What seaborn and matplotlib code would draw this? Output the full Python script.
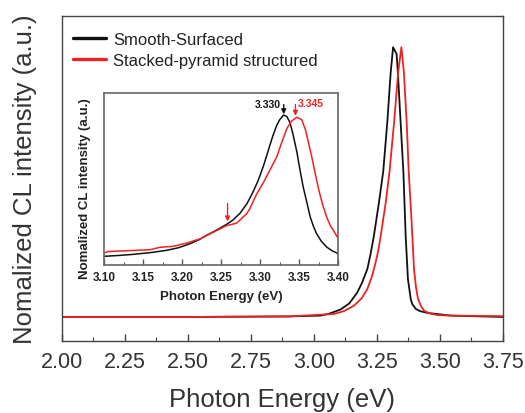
import numpy as np
import pandas as pd
import matplotlib
matplotlib.use("Agg")
import matplotlib.pyplot as plt
from matplotlib.lines import Line2D
from matplotlib.ticker import MultipleLocator
import seaborn as sns

# ---------------- data ----------------
series_names = ["Smooth-Surfaced", "Stacked-pyramid structured"]
series_colors = ["#111111", "#ee2222"]

main_smooth_E = [2.00, 2.50, 2.90, 3.026, 3.06, 3.106, 3.14, 3.172, 3.19, 3.212,
                 3.225, 3.238, 3.258, 3.275, 3.291, 3.3045, 3.314, 3.328, 3.333,
                 3.344, 3.355, 3.364, 3.373, 3.384, 3.39, 3.404, 3.42, 3.45,
                 3.543, 3.75]
main_smooth_I = [0.0, 0.0, 0.002, 0.005, 0.012, 0.028, 0.05, 0.091, 0.125, 0.178,
                 0.235, 0.301, 0.425, 0.54, 0.721, 0.906, 1.0, 0.975, 0.906,
                 0.721, 0.536, 0.30, 0.14, 0.067, 0.048, 0.03, 0.022, 0.015,
                 0.005, 0.0]

main_pyr_E = [2.00, 2.50, 2.90, 3.079, 3.12, 3.159, 3.19, 3.212, 3.23, 3.245,
              3.256, 3.265, 3.285, 3.300, 3.318, 3.334, 3.347, 3.357, 3.368,
              3.376, 3.387, 3.397, 3.405, 3.413, 3.425, 3.437, 3.46, 3.49,
              3.543, 3.75]
main_pyr_I = [0.0, 0.0, 0.002, 0.011, 0.022, 0.042, 0.07, 0.104, 0.15, 0.203,
              0.25, 0.301, 0.425, 0.54, 0.721, 0.906, 1.0, 0.906, 0.721,
              0.54, 0.363, 0.178, 0.11, 0.067, 0.04, 0.023, 0.013, 0.007,
              0.005, 0.003]

inset_smooth_E = [3.100, 3.120, 3.137, 3.160, 3.180, 3.195, 3.210, 3.222, 3.231,
                  3.240, 3.248, 3.257, 3.265, 3.274, 3.283, 3.290, 3.297, 3.304,
                  3.310, 3.316, 3.321, 3.325, 3.330, 3.334, 3.338, 3.342, 3.347,
                  3.351, 3.355, 3.360, 3.364, 3.368, 3.372, 3.378, 3.385, 3.392,
                  3.400]
inset_smooth_I = [0.058, 0.064, 0.071, 0.083, 0.098, 0.115, 0.142, 0.170, 0.198,
                  0.222, 0.245, 0.272, 0.30, 0.345, 0.41, 0.48, 0.56, 0.66,
                  0.76, 0.86, 0.93, 0.97, 1.0, 0.99, 0.95, 0.87, 0.75,
                  0.63, 0.52, 0.41, 0.32, 0.26, 0.21, 0.16, 0.12, 0.095,
                  0.075]

inset_pyr_E = [3.100, 3.105, 3.120, 3.137, 3.150, 3.159, 3.171, 3.188, 3.206,
               3.223, 3.240, 3.253, 3.258, 3.263, 3.270, 3.278, 3.283, 3.287,
               3.295, 3.304, 3.312, 3.321, 3.327, 3.334, 3.340, 3.347, 3.353,
               3.358, 3.362, 3.366, 3.370, 3.375, 3.380, 3.385, 3.390, 3.395,
               3.400]
inset_pyr_I = [0.08, 0.09, 0.093, 0.097, 0.10, 0.102, 0.118, 0.124, 0.147,
               0.175, 0.22, 0.253, 0.265, 0.27, 0.28, 0.32, 0.345, 0.38,
               0.47, 0.55, 0.63, 0.72, 0.81, 0.91, 0.96, 0.985, 0.97,
               0.90, 0.81, 0.72, 0.62, 0.50, 0.40, 0.32, 0.26, 0.22,
               0.175]

peak_labels = ["3.330", "3.345"]
peak_positions = [3.330, 3.345]
dip_position = 3.258

main_ticks = [2.00, 2.25, 2.50, 2.75, 3.00, 3.25, 3.50, 3.75]
inset_ticks = [3.10, 3.15, 3.20, 3.25, 3.30, 3.35, 3.40]

# ---------------- tables ----------------
df_main = pd.concat([
    pd.DataFrame({"E": main_smooth_E, "I": main_smooth_I, "sample": series_names[0]}),
    pd.DataFrame({"E": main_pyr_E, "I": main_pyr_I, "sample": series_names[1]}),
], ignore_index=True)
df_inset = pd.concat([
    pd.DataFrame({"E": inset_smooth_E, "I": inset_smooth_I, "sample": series_names[0]}),
    pd.DataFrame({"E": inset_pyr_E, "I": inset_pyr_I, "sample": series_names[1]}),
], ignore_index=True)
palette = dict(zip(series_names, series_colors))

# ---------------- style ----------------
sns.set_style("white")
plt.rcParams["font.family"] = ["Liberation Sans", "DejaVu Sans"]
plt.rcParams["axes.edgecolor"] = "#444444"
plt.rcParams["lines.solid_joinstyle"] = "round"

fig = plt.figure(figsize=(5.25, 4.14), dpi=100)
ax = fig.add_axes([0.118, 0.174, 0.840, 0.785])
ins = fig.add_axes([0.1987, 0.3575, 0.4457, 0.4155])

# ---------------- main plot ----------------
sns.lineplot(data=df_main, x="E", y="I", hue="sample", palette=palette,
             hue_order=series_names, estimator=None, sort=False,
             linewidth=1.3, legend=False, ax=ax)
ax.set_xlim(2.0, 3.75)
ax.set_ylim(-0.089, 1.116)
ax.set_xticks(main_ticks)
ax.set_xticklabels([f"{t:.2f}" for t in main_ticks])
ax.xaxis.set_minor_locator(MultipleLocator(0.125))
ax.set_yticks([])
ax.tick_params(axis="x", which="major", direction="in", length=5, width=1,
               color="#444444", labelsize=15.5, labelcolor="#333333", pad=7,
               bottom=True)
ax.tick_params(axis="x", which="minor", direction="in", length=3, width=0.8,
               color="#444444", bottom=True)
for s in ax.spines.values():
    s.set_linewidth(1.0)
    s.set_color("#444444")
ax.set_xlabel("Photon Energy (eV)", fontsize=18.5, color="#333333")
ax.set_ylabel("Nomalized CL intensity (a.u.)", fontsize=18.5, color="#333333")
ax.xaxis.set_label_coords(0.5, -0.142)
ax.yaxis.set_label_coords(-0.057, 0.5)

handles = [Line2D([0], [0], color=c, lw=2.4) for c in series_colors]
ax.legend(handles, series_names, loc="upper left", bbox_to_anchor=(0.024, 0.95),
          frameon=False, fontsize=12, handlelength=2.0, handletextpad=0.45,
          labelspacing=0.35, borderpad=0, borderaxespad=0,
          labelcolor="#222222")

# ---------------- inset ----------------
sns.lineplot(data=df_inset, x="E", y="I", hue="sample", palette=palette,
             hue_order=series_names, estimator=None, sort=False,
             linewidth=1.1, legend=False, ax=ins)
ins.set_xlim(3.10, 3.40)
ins.set_ylim(0.0, 1.147)
ins.set_xticks(inset_ticks)
ins.set_xticklabels([f"{t:.2f}" for t in inset_ticks], fontweight="bold")
ins.xaxis.set_minor_locator(MultipleLocator(0.025))
ins.set_yticks([])
ins.tick_params(axis="x", which="major", direction="in", length=4, width=1,
                color="#555555", labelsize=8.5, labelcolor="#222222", pad=4,
                bottom=True)
ins.tick_params(axis="x", which="minor", direction="in", length=2.5, width=0.8,
                color="#555555", bottom=True)
for s in ins.spines.values():
    s.set_linewidth(1.2)
    s.set_color("#666666")
ins.set_xlabel("Photon Energy (eV)", fontsize=9.5, fontweight="bold", color="#222222")
ins.set_ylabel("Nomalized CL intensity (a.u.)", fontsize=9.5, fontweight="bold",
               color="#222222")
ins.xaxis.set_label_coords(0.5, -0.148)
ins.yaxis.set_label_coords(-0.055, 0.45)

# annotations
arrow_kw = dict(arrowstyle="-|>", lw=1.0, mutation_scale=7, shrinkA=0, shrinkB=0)
ins.annotate("", xy=(peak_positions[0], 1.005), xytext=(peak_positions[0], 1.07),
             arrowprops=dict(color=series_colors[0], **arrow_kw))
ins.annotate("", xy=(peak_positions[1], 0.995), xytext=(peak_positions[1], 1.07),
             arrowprops=dict(color=series_colors[1], **arrow_kw))
ins.annotate("", xy=(dip_position, 0.29), xytext=(dip_position, 0.41),
             arrowprops=dict(color=series_colors[1], **arrow_kw))
ins.text(peak_positions[0] - 0.004, 1.075, peak_labels[0], ha="right", va="center",
         fontsize=7.5, fontweight="bold", color=series_colors[0])
ins.text(peak_positions[1] + 0.003, 1.08, peak_labels[1], ha="left", va="center",
         fontsize=7.5, fontweight="bold", color=series_colors[1])

fig.savefig("out.png", dpi=100)
